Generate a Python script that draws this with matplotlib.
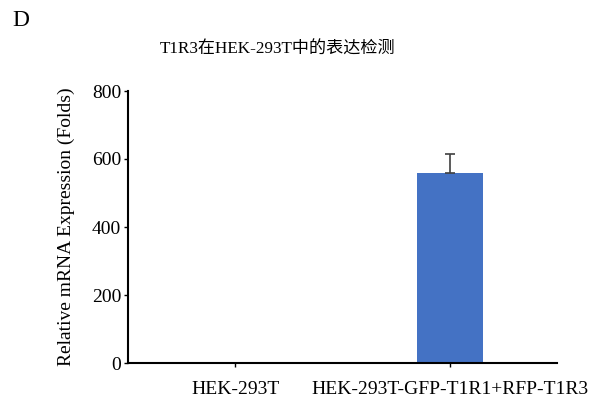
import matplotlib.pyplot as plt

plt.rcParams['font.family'] = ['Liberation Serif', 'Noto Sans CJK SC']

groups = ['HEK-293T', 'HEK-293T-GFP-T1R1+RFP-T1R3']
values = [1.0, 558]
errors = [0.0, 58]

fig = plt.figure(figsize=(5.96, 4.01), dpi=100)
ax = fig.add_axes([128 / 596, 1 - 363 / 401, 429 / 596, 272 / 401])

x = range(len(groups))
ax.bar(x, values, width=0.31, color='#4472C4', zorder=2)
ax.errorbar(x, values, yerr=[[0, 0], errors], fmt='none', ecolor='#404040',
            elinewidth=1.2, capsize=3.5, capthick=1.2, zorder=2.2)

ax.set_xlim(-0.5, 1.5)
ax.set_ylim(0, 800)
ax.set_yticks([0, 200, 400, 600, 800])
ax.set_xticks(list(x))
ax.set_xticklabels(groups, fontsize=14)
ax.tick_params(axis='y', labelsize=14, length=3, width=1, pad=2)
ax.tick_params(axis='x', length=3, width=1, pad=10)
ax.spines['top'].set_visible(False)
ax.spines['right'].set_visible(False)
ax.spines['left'].set_linewidth(1.5)
ax.spines['bottom'].set_linewidth(1.5)
ax.set_ylabel('Relative mRNA Expression (Folds)', fontsize=14, labelpad=12)

fig.text(278 / 596, 1 - 50 / 401, 'T1R3在HEK-293T中的表达检测', fontsize=12.3,
         ha='center', va='center')
fig.text(12 / 596, 1 - 20 / 401, 'D', fontsize=17, ha='left', va='center')

fig.savefig('out.png', dpi=100)
